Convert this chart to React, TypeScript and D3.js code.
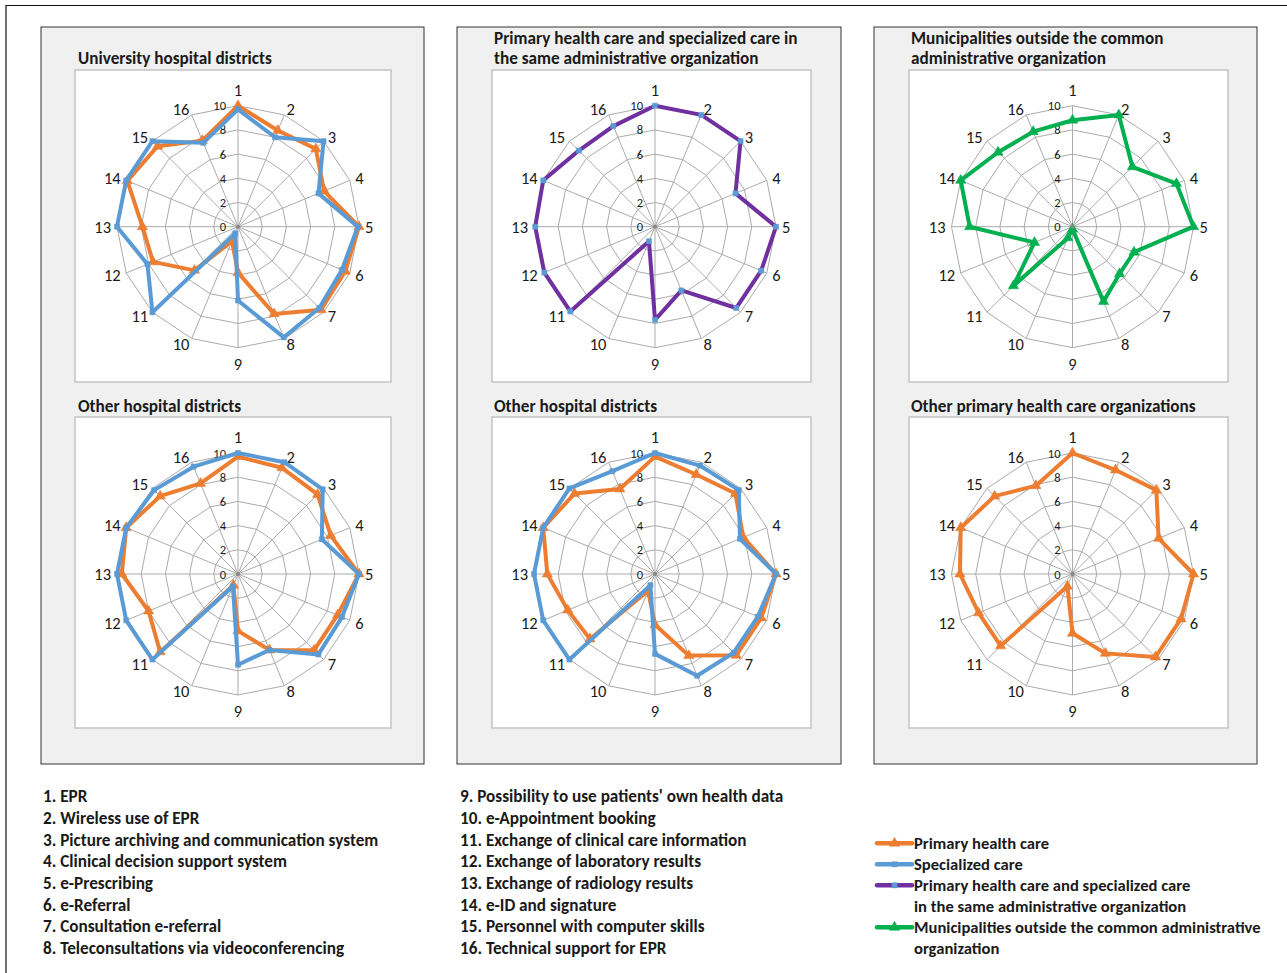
import React from "react";
import * as d3 from "d3";

const categories = ["1", "2", "3", "4", "5", "6", "7", "8", "9", "10", "11", "12", "13", "14", "15", "16"];
const itemNames = [
  "EPR",
  "Wireless use of EPR",
  "Picture archiving and communication system",
  "Clinical decision support system",
  "e-Prescribing",
  "e-Referral",
  "Consultation e-referral",
  "Teleconsultations via videoconferencing",
  "Possibility to use patients' own health data",
  "e-Appointment booking",
  "Exchange of clinical care information",
  "Exchange of laboratory results",
  "Exchange of radiology results",
  "e-ID and signature",
  "Personnel with computer skills",
  "Technical support for EPR",
];
const tickValues = [0, 2, 4, 6, 8, 10];

// University hospital districts
const univPrimary = [10, 8.6, 9.1, 7.7, 10, 9.6, 9.7, 7.8, 3.8, 1.3, 5.1, 7.6, 7.9, 9.9, 9.4, 7.7];
const univSpecialized = [9.7, 8.0, 10, 7.2, 9.9, 9.3, 9.5, 9.9, 6.1, 0.6, 10, 8.1, 10, 10, 10, 7.5];
// Primary health care and specialized care in the same administrative organization
const sameOrg = [10, 10, 10, 7.2, 10, 9.5, 9.5, 5.7, 7.7, 1.3, 9.9, 9.9, 9.9, 10, 8.9, 9.0];
// Municipalities outside the common administrative organization
const municipalities = [8.8, 10, 7.0, 9.3, 10, 5.5, 5.5, 6.7, 0.2, 1.0, 6.9, 3.4, 8.5, 10, 8.7, 8.5];
// Other hospital districts (left)
const otherHospPrimaryA = [9.7, 9.5, 9.3, 8.3, 10, 8.9, 8.9, 6.8, 4.7, 1.0, 9.1, 8.0, 9.6, 10, 9.1, 8.1];
const otherHospSpecializedA = [10, 10, 9.9, 7.5, 10, 9.3, 9.4, 6.8, 7.5, 1.1, 10, 10, 10, 10, 9.8, 9.6];
// Other hospital districts (middle)
const otherHospPrimaryB = [9.7, 8.9, 9.4, 7.9, 10, 9.5, 9.5, 7.3, 4.2, 1.5, 7.6, 7.8, 8.9, 10, 9.4, 7.6];
const otherHospSpecializedB = [10, 9.7, 9.8, 7.6, 10, 9.2, 9.2, 9.1, 6.6, 1.0, 10, 10, 10, 10, 10, 9.2];
// Other primary health care organizations
const otherPrimary = [10, 9.3, 9.8, 7.7, 10, 9.7, 9.7, 7.1, 4.9, 1.1, 8.4, 8.4, 9.3, 10, 9.1, 7.9];

const legendNames = [
  ["Primary health care"],
  ["Specialized care"],
  ["Primary health care and specialized care", "in the same administrative organization"],
  ["Municipalities outside the common administrative", "organization"],
];

const ORANGE = "#ED7D31";
const BLUE = "#5B9BD5";
const PURPLE = "#7030A0";
const GREEN = "#00B050";
const FONT = "Carlito, Calibri, Lato, 'Noto Sans', sans-serif";

type Series = { values: number[]; color: string; marker: "triangle" | "square"; markerColor: string };

const R = 121;
const rScale = d3.scaleLinear().domain([0, 10]).range([0, R]);
const aScale = d3.scaleLinear().domain([0, categories.length]).range([0, 2 * Math.PI]);

const radial = d3
  .lineRadial<number>()
  .angle((_, i) => aScale(i))
  .radius((d) => rScale(d))
  .curve(d3.curveLinearClosed);

const triPath = d3.symbol().type(d3.symbolTriangle).size(46)() as string;
const sqPath = d3.symbol().type(d3.symbolSquare).size(26)() as string;

function Marker({ type, color, x, y }: { type: string; color: string; x: number; y: number }) {
  return <path d={type === "triangle" ? triPath : sqPath} transform={`translate(${x},${y})`} fill={color} stroke={color} strokeWidth={0.5} />;
}

function Radar({ cx, cy, series }: { cx: number; cy: number; series: Series[] }) {
  const gridColor = "#ababab";
  return (
    <g transform={`translate(${cx},${cy})`}>
      {tickValues
        .filter((t) => t > 0)
        .map((t) => (
          <path key={t} d={radial(categories.map(() => t)) as string} fill="none" stroke={gridColor} strokeWidth={1} />
        ))}
      {categories.map((c, i) => {
        const a = aScale(i);
        return (
          <line key={c} x1={0} y1={0} x2={rScale(10) * Math.sin(a)} y2={-rScale(10) * Math.cos(a)} stroke={gridColor} strokeWidth={1} />
        );
      })}
      {categories.map((c, i) => {
        const a = aScale(i);
        const dx = Math.sin(a);
        const dy = -Math.cos(a);
        const rr = R + 6;
        const x = rr * dx;
        let y = rr * dy;
        let anchor = "middle";
        if (Math.abs(dx) < 0.01) {
          y += dy * 10;
        } else {
          anchor = dx > 0 ? "start" : "end";
        }
        return (
          <text key={c} x={x} y={y} textAnchor={anchor} dominantBaseline="central" fontSize={16.5} fill="#1a1a1a" fontFamily={FONT}>
            {c}
          </text>
        );
      })}
      {tickValues.map((t) => (
        <text key={t} x={-12} y={-rScale(t)} textAnchor="end" dominantBaseline="central" fontSize={12.5} fill="#1a1a1a" fontFamily={FONT}>
          {t}
        </text>
      ))}
      {series.map((s, k) => (
        <g key={k}>
          <path d={radial(s.values) as string} fill="none" stroke={s.color} strokeWidth={4} strokeLinejoin="round" />
          {s.values.map((v, i) => {
            const a = aScale(i);
            return <Marker key={i} type={s.marker} color={s.markerColor} x={rScale(v) * Math.sin(a)} y={-rScale(v) * Math.cos(a)} />;
          })}
        </g>
      ))}
      <circle r={2} fill="#888" />
    </g>
  );
}

const primarySeries = (values: number[]): Series => ({ values, color: ORANGE, marker: "triangle", markerColor: ORANGE });
const specSeries = (values: number[]): Series => ({ values, color: BLUE, marker: "square", markerColor: BLUE });

export default function App() {
  const panels = [
    { x: 41, w: 383, box: [75, 391] },
    { x: 457, w: 384, box: [492, 811] },
    { x: 874, w: 383, box: [909, 1228] },
  ];
  const topBox = [70, 382];
  const botBox = [417, 728];
  const cxs = [238, 655, 1072.5];
  const cyTop = 226.7;
  const cyBot = 574;

  const charts = [
    { col: 0, row: 0, title: ["University hospital districts"], series: [primarySeries(univPrimary), specSeries(univSpecialized)] },
    {
      col: 1,
      row: 0,
      title: ["Primary health care and specialized care in", "the same administrative organization"],
      series: [{ values: sameOrg, color: PURPLE, marker: "square", markerColor: BLUE } as Series],
    },
    {
      col: 2,
      row: 0,
      title: ["Municipalities outside the common", "administrative organization"],
      series: [{ values: municipalities, color: GREEN, marker: "triangle", markerColor: GREEN } as Series],
    },
    { col: 0, row: 1, title: ["Other hospital districts"], series: [primarySeries(otherHospPrimaryA), specSeries(otherHospSpecializedA)] },
    { col: 1, row: 1, title: ["Other hospital districts"], series: [primarySeries(otherHospPrimaryB), specSeries(otherHospSpecializedB)] },
    { col: 2, row: 1, title: ["Other primary health care organizations"], series: [primarySeries(otherPrimary)] },
  ];

  const rowStep = 21.66;
  const listY0 = 796.7;
  const legendEntries = [
    { color: ORANGE, marker: "triangle", markerColor: ORANGE, row: 0 },
    { color: BLUE, marker: "square", markerColor: BLUE, row: 1 },
    { color: PURPLE, marker: "square", markerColor: BLUE, row: 2 },
    { color: GREEN, marker: "triangle", markerColor: GREEN, row: 4 },
  ];
  const legY0 = 843.3;
  const legStep = 21;

  return (
    <svg width={1287} height={973} style={{ position: "absolute", left: 0, top: 0, background: "#fff" }} fontFamily={FONT}>
      <rect x={0} y={0} width={1287} height={973} fill="#fff" />
      <path d="M6,1000 L6,5.5 L1300,5.5" fill="none" stroke="#111" strokeWidth={1.2} />
      {panels.map((p, i) => (
        <g key={i}>
          <rect x={p.x} y={27} width={p.w} height={737} fill="#f0f0f0" stroke="#333" strokeWidth={1} />
          <rect x={p.box[0]} y={topBox[0]} width={p.box[1] - p.box[0]} height={topBox[1] - topBox[0]} fill="#fff" stroke="#c4c4c4" strokeWidth={1.5} />
          <rect x={p.box[0]} y={botBox[0]} width={p.box[1] - p.box[0]} height={botBox[1] - botBox[0]} fill="#fff" stroke="#c4c4c4" strokeWidth={1.5} />
        </g>
      ))}
      {charts.map((c, i) => {
        const tx = panels[c.col].x + 37;
        const lines = c.title;
        const baseY = c.row === 0 ? 63.5 : 411.5;
        return (
          <g key={i}>
            {lines.map((t, j) => (
              <text key={j} x={tx} y={baseY - (lines.length - 1 - j) * 20} fontSize={17.2} fontWeight="bold" fill="#1a1a1a">
                {t}
              </text>
            ))}
            <Radar cx={cxs[c.col]} cy={c.row === 0 ? cyTop : cyBot} series={c.series} />
          </g>
        );
      })}
      {itemNames.map((name, i) => {
        const col = i < 8 ? 0 : 1;
        const row = i % 8;
        return (
          <text key={i} x={col === 0 ? 43 : 460} y={listY0 + row * rowStep} dominantBaseline="central" fontSize={17.2} fontWeight={600} fill="#1a1a1a">
            {`${categories[i]}. ${name}`}
          </text>
        );
      })}
      {legendEntries.map((e, i) => {
        const y = legY0 + e.row * legStep;
        return (
          <g key={i}>
            <line x1={877} x2={912} y1={y} y2={y} stroke={e.color} strokeWidth={4.5} strokeLinecap="round" />
            <Marker type={e.marker} color={e.markerColor} x={894.5} y={y} />
            {legendNames[i].map((t, j) => (
              <text key={j} x={914} y={y + j * legStep} dominantBaseline="central" fontSize={16.6} fontWeight={600} fill="#1a1a1a">
                {t}
              </text>
            ))}
          </g>
        );
      })}
    </svg>
  );
}
